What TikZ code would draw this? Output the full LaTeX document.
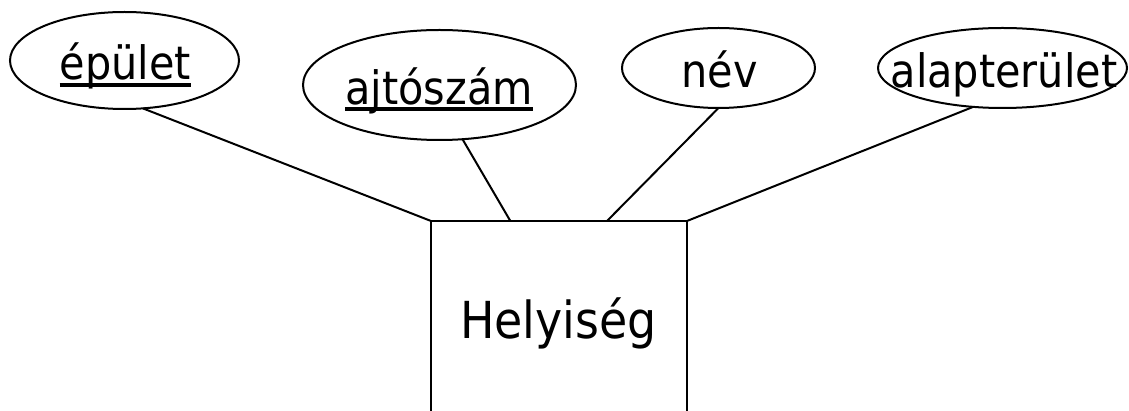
\documentclass[tikz,border=0pt]{standalone}
\usepackage{fontspec}
\setmainfont{DejaVu Sans Condensed}
\usetikzlibrary{shapes.geometric,calc}
\begin{document}
\begin{tikzpicture}[x=1pt,y=-1pt,
  attr/.style={draw,ellipse,line width=2pt,inner sep=0pt,outer sep=0pt},
  lbl/.style={inner sep=0pt,anchor=base,font=\fontsize{46}{50}\selectfont},
  entbox/.style={draw,rectangle,line width=2pt,inner sep=0pt,outer sep=0pt,minimum width=256pt,minimum height=300pt,anchor=north},
  link/.style={line width=2pt},
  ul/.style={line width=4pt}]
\clip (0,0) rectangle (1129,411);
\fill[white] (0,0) rectangle (1129,411);
% attributes
\node[attr,minimum width=229pt,minimum height=97pt] (e1) at (124.5,60.5) {};
\node[attr,minimum width=273pt,minimum height=110pt] (e2) at (439.5,85) {};
\node[attr,minimum width=193pt,minimum height=80pt] (e3) at (718.5,68) {};
\node[attr,minimum width=249pt,minimum height=80pt] (e4) at (1002.5,68) {};
\node[lbl] (t1) at (125.5,80) {épület};
\node[lbl] (t2) at (439,105) {ajtószám};
\node[lbl] (t3) at (719.5,88) {név};
\node[lbl] (t4) at (1004,88) {alapterület};
\draw[ul] ([yshift=-5pt]t1.base west) -- ([yshift=-5pt]t1.base east);
\draw[ul] ([yshift=-4.5pt]t2.base west) -- ([yshift=-4.5pt]t2.base east);
% entity
\node[entbox] (ent) at (559,221) {};
\node[lbl,font=\fontsize{51}{55}\selectfont] (hl) at (558.5,338) {Helyiség};
% connectors
\draw[link] (e1.-69) -- (ent.north west);
\draw[link] (e2.-67) -- ($(ent.north west)!0.31!(ent.north east)$);
\draw[link] (e3.south) -- ($(ent.north west)!0.6875!(ent.north east)$);
\draw[link] (e4.-127) -- (ent.north east);
\end{tikzpicture}
\end{document}
